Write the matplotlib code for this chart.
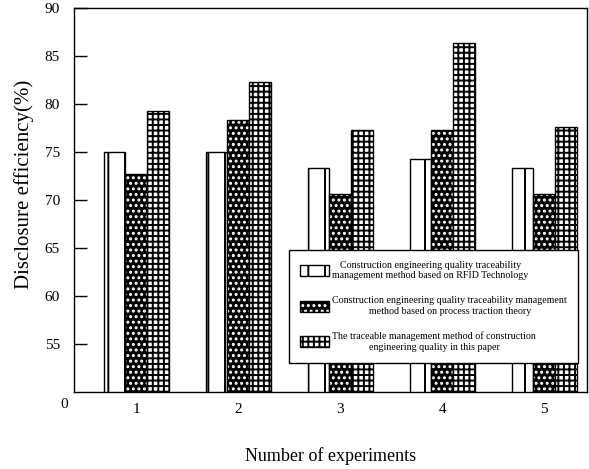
import matplotlib
matplotlib.use("Agg")
import matplotlib.pyplot as plt
import numpy as np
from matplotlib.legend_handler import HandlerTuple

plt.rcParams['font.family'] = ['Liberation Serif', 'DejaVu Serif']
plt.rcParams['hatch.linewidth'] = 1.4

experiments = [1, 2, 3, 4, 5]
rfid = [75.0, 75.0, 73.3, 74.3, 73.3]
process = [72.7, 78.3, 70.6, 77.3, 70.6]
paper = [79.3, 82.3, 77.3, 86.3, 77.6]
labels = ["Construction engineering quality traceability\nmanagement method based on RFID Technology",
          "Construction engineering quality traceability management\nmethod based on process traction theory",
          "The traceable management method of construction\nengineering quality in this paper"]

x = np.array(experiments)
w = 0.213

fig = plt.figure(figsize=(5.89, 4.69), dpi=100)
ax = fig.add_axes([0.1256, 0.1642, 0.871, 0.8188])

b1 = ax.bar(x - w, rfid, w, facecolor='white', edgecolor='black', hatch='|', linewidth=1.0)
# black bar with white dots, outline drawn on top
b2 = ax.bar(x, process, w, facecolor='black', edgecolor='white', hatch='...', linewidth=0)
b2o = ax.bar(x, process, w, fill=False, edgecolor='black', linewidth=1.0)
b3 = ax.bar(x + w, paper, w, facecolor='white', edgecolor='black', hatch='+++', linewidth=1.0)

ax.set_xlim(0.39, 5.42)
ax.set_ylim(50, 90)
ax.set_yticks([55, 60, 65, 70, 75, 80, 85, 90])
ax.set_xticks(x)
ax.tick_params(axis='y', direction='in', length=9.5, width=1, pad=10, labelsize=11)
ax.tick_params(axis='x', length=0, pad=8, labelsize=11)
for s in ax.spines.values():
    s.set_linewidth(1)

ax.set_ylabel("Disclosure efficiency(%)", fontsize=15)
ax.yaxis.set_label_coords(-0.078, 0.54)
ax.set_xlabel("Number of experiments", fontsize=13, labelpad=22)
fig.text(0.109, 0.1365, "0", fontsize=11, ha='center', va='center')

leg = ax.legend([b1[0], (b2[0], b2o[0]), b3[0]], labels,
                handler_map={tuple: HandlerTuple(ndivide=1, pad=0)},
                loc='upper left', bbox_to_anchor=(0.41, 0.383),
                fontsize=7.2, frameon=True, fancybox=False, framealpha=1,
                edgecolor='black', handlelength=2.9, handleheight=1.3,
                handletextpad=0.3, labelspacing=1.6, borderpad=1.1)
leg.get_frame().set_linewidth(1)
for t in leg.get_texts():
    t.set_multialignment('center')

fig.savefig("out.png", dpi=100)
